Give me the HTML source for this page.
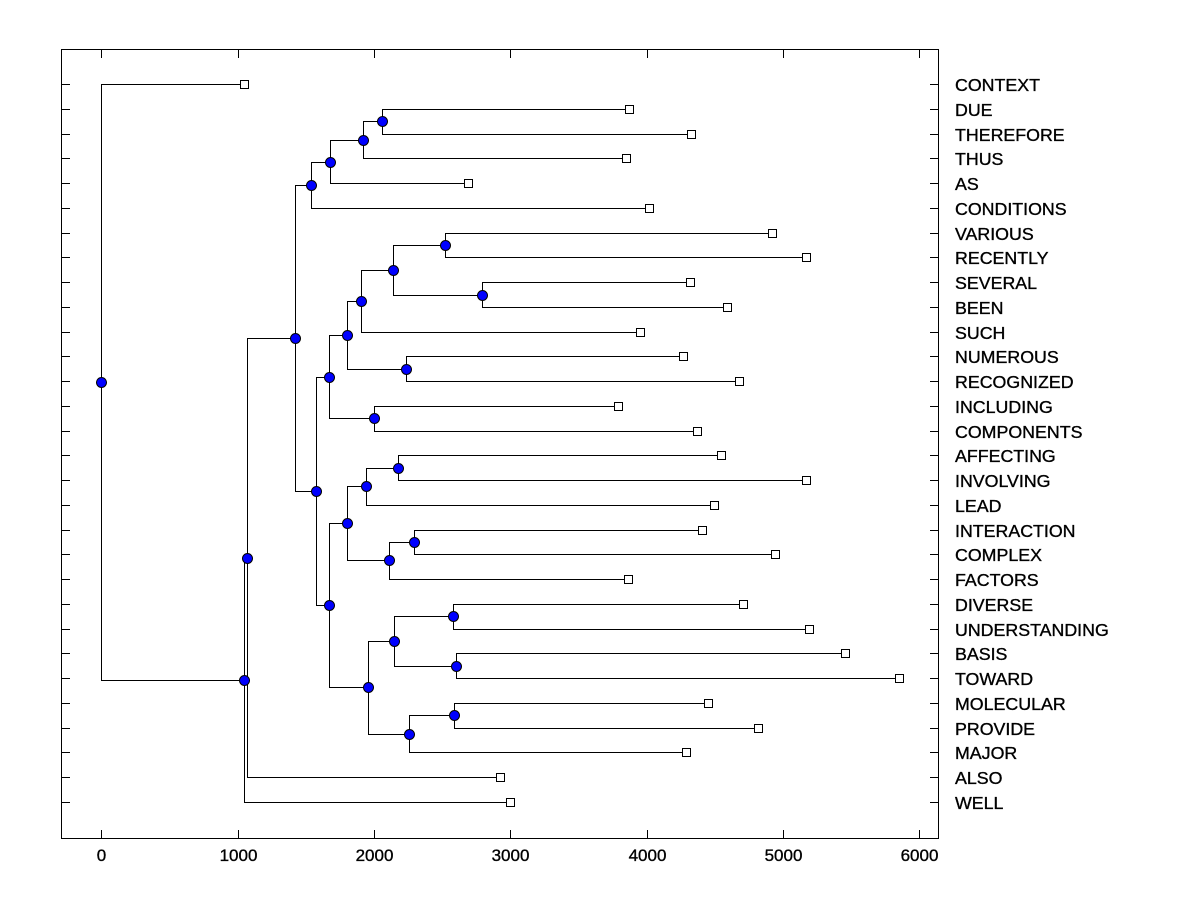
<!DOCTYPE html>
<html><head><meta charset="utf-8"><style>
html,body{margin:0;padding:0;background:#fff;}
svg{display:block;}
text{font-family:"Liberation Sans",Arial,sans-serif;fill:#000;stroke:#000;stroke-width:0.35;}
</style></head><body>
<svg width="1200" height="900" viewBox="0 0 1200 900" xmlns="http://www.w3.org/2000/svg">
<rect x="0" y="0" width="1200" height="900" fill="#fff"/>
<g fill="none" stroke="#000" stroke-width="1" shape-rendering="crispEdges">
<rect x="61.5" y="49.5" width="877" height="789"/>
<path d="M101.5 830V838.5M238.5 830V838.5M374.5 830V838.5M510.5 830V838.5M647.5 830V838.5M783.5 830V838.5M919.5 830V838.5
M101.5 49.5V58M238.5 49.5V58M374.5 49.5V58M510.5 49.5V58M647.5 49.5V58M783.5 49.5V58M919.5 49.5V58"/>
<path d="M61.5 84.5H70M61.5 109.5H70M61.5 134.5H70M61.5 158.5H70M61.5 183.5H70M61.5 208.5H70M61.5 233.5H70M61.5 257.5H70M61.5 282.5H70M61.5 307.5H70M61.5 332.5H70M61.5 356.5H70M61.5 381.5H70M61.5 406.5H70M61.5 431.5H70M61.5 455.5H70M61.5 480.5H70M61.5 505.5H70M61.5 530.5H70M61.5 554.5H70M61.5 579.5H70M61.5 604.5H70M61.5 629.5H70M61.5 653.5H70M61.5 678.5H70M61.5 703.5H70M61.5 728.5H70M61.5 752.5H70M61.5 777.5H70M61.5 802.5H70
M930 84.5H938.5M930 109.5H938.5M930 134.5H938.5M930 158.5H938.5M930 183.5H938.5M930 208.5H938.5M930 233.5H938.5M930 257.5H938.5M930 282.5H938.5M930 307.5H938.5M930 332.5H938.5M930 356.5H938.5M930 381.5H938.5M930 406.5H938.5M930 431.5H938.5M930 455.5H938.5M930 480.5H938.5M930 505.5H938.5M930 530.5H938.5M930 554.5H938.5M930 579.5H938.5M930 604.5H938.5M930 629.5H938.5M930 653.5H938.5M930 678.5H938.5M930 703.5H938.5M930 728.5H938.5M930 752.5H938.5M930 777.5H938.5M930 802.5H938.5"/>
<path d="M629.5 109.5H382.5V134.5H691.5
M382.5 121.5H363.5V158.5H626.5
M363.5 140.5H330.5V183.5H468.5
M330.5 162.5H311.5V208.5H649.5
M772.5 233.5H445.5V257.5H806.5
M690.5 282.5H482.5V307.5H727.5
M445.5 245.5H393.5V295.5H482.5
M393.5 270.5H361.5V332.5H640.5
M683.5 356.5H406.5V381.5H739.5
M361.5 301.5H347.5V369.5H406.5
M618.5 406.5H374.5V431.5H697.5
M347.5 335.5H329.5V418.5H374.5
M721.5 455.5H398.5V480.5H806.5
M398.5 468.5H366.5V505.5H714.5
M702.5 530.5H414.5V554.5H775.5
M414.5 542.5H389.5V579.5H628.5
M366.5 486.5H347.5V560.5H389.5
M743.5 604.5H453.5V629.5H809.5
M845.5 653.5H456.5V678.5H899.5
M453.5 616.5H394.5V666.5H456.5
M708.5 703.5H454.5V728.5H758.5
M454.5 715.5H409.5V752.5H686.5
M394.5 641.5H368.5V734.5H409.5
M347.5 523.5H329.5V687.5H368.5
M329.5 377.5H316.5V605.5H329.5
M311.5 185.5H295.5V491.5H316.5
M295.5 338.5H247.5V777.5H500.5
M247.5 558.5H244.5V802.5H510.5
M244.5 84.5H101.5V680.5H244.5"/>
</g>
<g fill="#fff" stroke="#000" stroke-width="1" shape-rendering="crispEdges">
<rect x="240.5" y="80.5" width="8" height="8"/>
<rect x="625.5" y="105.5" width="8" height="8"/>
<rect x="687.5" y="130.5" width="8" height="8"/>
<rect x="622.5" y="154.5" width="8" height="8"/>
<rect x="464.5" y="179.5" width="8" height="8"/>
<rect x="645.5" y="204.5" width="8" height="8"/>
<rect x="768.5" y="229.5" width="8" height="8"/>
<rect x="802.5" y="253.5" width="8" height="8"/>
<rect x="686.5" y="278.5" width="8" height="8"/>
<rect x="723.5" y="303.5" width="8" height="8"/>
<rect x="636.5" y="328.5" width="8" height="8"/>
<rect x="679.5" y="352.5" width="8" height="8"/>
<rect x="735.5" y="377.5" width="8" height="8"/>
<rect x="614.5" y="402.5" width="8" height="8"/>
<rect x="693.5" y="427.5" width="8" height="8"/>
<rect x="717.5" y="451.5" width="8" height="8"/>
<rect x="802.5" y="476.5" width="8" height="8"/>
<rect x="710.5" y="501.5" width="8" height="8"/>
<rect x="698.5" y="526.5" width="8" height="8"/>
<rect x="771.5" y="550.5" width="8" height="8"/>
<rect x="624.5" y="575.5" width="8" height="8"/>
<rect x="739.5" y="600.5" width="8" height="8"/>
<rect x="805.5" y="625.5" width="8" height="8"/>
<rect x="841.5" y="649.5" width="8" height="8"/>
<rect x="895.5" y="674.5" width="8" height="8"/>
<rect x="704.5" y="699.5" width="8" height="8"/>
<rect x="754.5" y="724.5" width="8" height="8"/>
<rect x="682.5" y="748.5" width="8" height="8"/>
<rect x="496.5" y="773.5" width="8" height="8"/>
<rect x="506.5" y="798.5" width="8" height="8"/>
</g>
<g fill="#0000ff" stroke="#000" stroke-width="1">
<circle cx="382.5" cy="121.5" r="5"/>
<circle cx="363.5" cy="140.5" r="5"/>
<circle cx="330.5" cy="162.5" r="5"/>
<circle cx="311.5" cy="185.5" r="5"/>
<circle cx="445.5" cy="245.5" r="5"/>
<circle cx="482.5" cy="295.5" r="5"/>
<circle cx="393.5" cy="270.5" r="5"/>
<circle cx="361.5" cy="301.5" r="5"/>
<circle cx="406.5" cy="369.5" r="5"/>
<circle cx="347.5" cy="335.5" r="5"/>
<circle cx="374.5" cy="418.5" r="5"/>
<circle cx="329.5" cy="377.5" r="5"/>
<circle cx="398.5" cy="468.5" r="5"/>
<circle cx="366.5" cy="486.5" r="5"/>
<circle cx="414.5" cy="542.5" r="5"/>
<circle cx="389.5" cy="560.5" r="5"/>
<circle cx="347.5" cy="523.5" r="5"/>
<circle cx="453.5" cy="616.5" r="5"/>
<circle cx="456.5" cy="666.5" r="5"/>
<circle cx="394.5" cy="641.5" r="5"/>
<circle cx="454.5" cy="715.5" r="5"/>
<circle cx="409.5" cy="734.5" r="5"/>
<circle cx="368.5" cy="687.5" r="5"/>
<circle cx="329.5" cy="605.5" r="5"/>
<circle cx="316.5" cy="491.5" r="5"/>
<circle cx="295.5" cy="338.5" r="5"/>
<circle cx="247.5" cy="558.5" r="5"/>
<circle cx="244.5" cy="680.5" r="5"/>
<circle cx="101.5" cy="382.5" r="5"/>
</g>
<g font-size="17" text-anchor="middle">
<text x="101.5" y="861">0</text>
<text x="238.5" y="861">1000</text>
<text x="374.5" y="861">2000</text>
<text x="510.5" y="861">3000</text>
<text x="647.5" y="861">4000</text>
<text x="783.5" y="861">5000</text>
<text x="919.5" y="861">6000</text>
</g>
<g font-size="17.8">
<text x="955" y="91">CONTEXT</text>
<text x="955" y="116">DUE</text>
<text x="955" y="141">THEREFORE</text>
<text x="955" y="165">THUS</text>
<text x="955" y="190">AS</text>
<text x="955" y="215">CONDITIONS</text>
<text x="955" y="240">VARIOUS</text>
<text x="955" y="264">RECENTLY</text>
<text x="955" y="289">SEVERAL</text>
<text x="955" y="314">BEEN</text>
<text x="955" y="339">SUCH</text>
<text x="955" y="363">NUMEROUS</text>
<text x="955" y="388">RECOGNIZED</text>
<text x="955" y="413">INCLUDING</text>
<text x="955" y="438">COMPONENTS</text>
<text x="955" y="462">AFFECTING</text>
<text x="955" y="487">INVOLVING</text>
<text x="955" y="512">LEAD</text>
<text x="955" y="537">INTERACTION</text>
<text x="955" y="561">COMPLEX</text>
<text x="955" y="586">FACTORS</text>
<text x="955" y="611">DIVERSE</text>
<text x="955" y="636">UNDERSTANDING</text>
<text x="955" y="660">BASIS</text>
<text x="955" y="685">TOWARD</text>
<text x="955" y="710">MOLECULAR</text>
<text x="955" y="735">PROVIDE</text>
<text x="955" y="759">MAJOR</text>
<text x="955" y="784">ALSO</text>
<text x="955" y="809">WELL</text>
</g>
</svg>
</body></html>
